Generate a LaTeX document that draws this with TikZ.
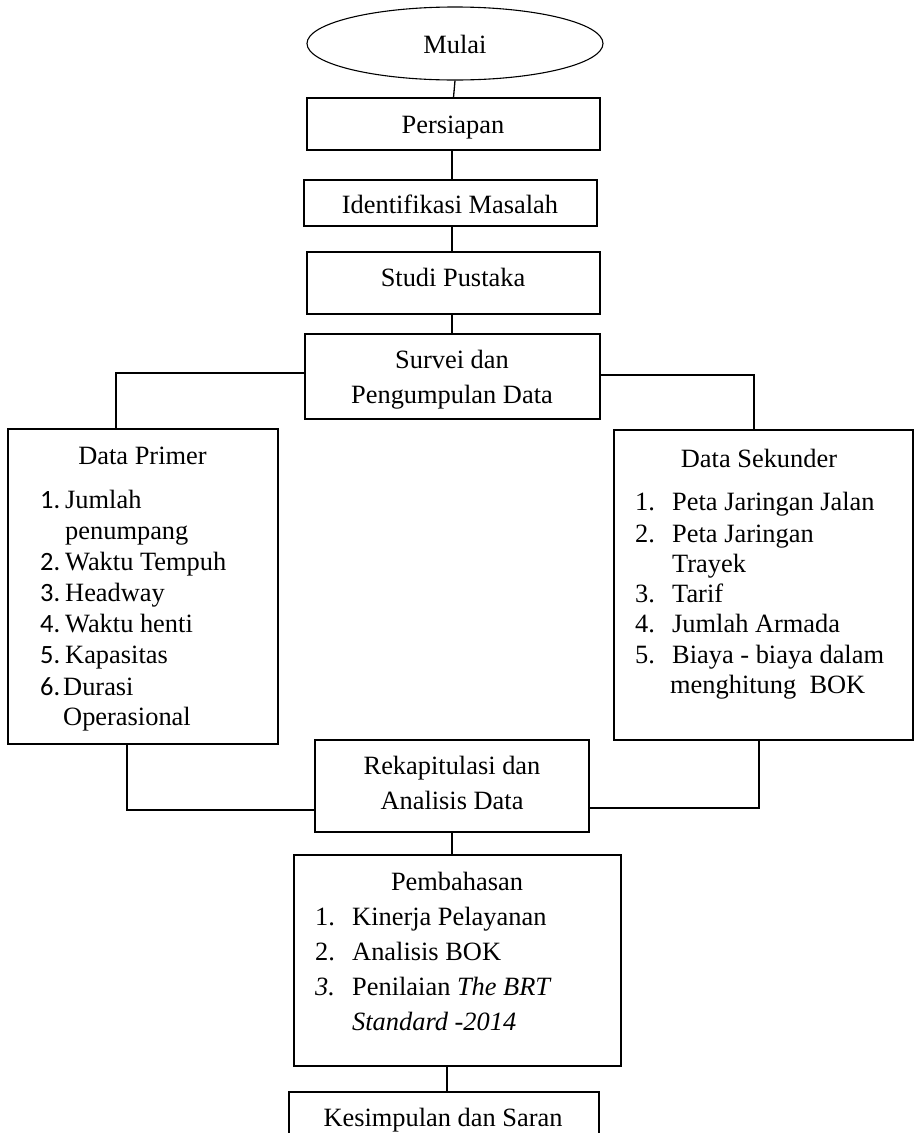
\documentclass[tikz,border=0pt]{standalone}
\usepackage{fontspec}
\setmainfont{Liberation Serif}
\newfontfamily\calfont{Carlito}
\usetikzlibrary{shapes.geometric}
\begin{document}
\begin{tikzpicture}[x=1pt,y=-1pt,
  every node/.style={font=\fontsize{26.4pt}{31pt}\selectfont},
  box/.style={draw=black, line width=1.1pt, rectangle, inner sep=0pt},
  txt/.style={inner sep=0pt, anchor=base},
  lst/.style={inner sep=0pt, anchor=base west},
  conn/.style={draw=black, line width=1.3pt}]
\clip (0,0) rectangle (916,1133);
\fill[white] (0,0) rectangle (916,1133);

% shapes
\node (mulai) [draw=black, line width=1.1pt, ellipse, inner sep=0pt, minimum width=296pt, minimum height=73pt] at (455,43.5) {};
\node (persiapan) [box, minimum width=293pt, minimum height=52pt] at (453.5,124) {};
\node (identifikasi) [box, minimum width=293pt, minimum height=46pt] at (450.5,203) {};
\node (studi) [box, minimum width=293pt, minimum height=62pt] at (453.5,283) {};
\node (survei) [box, minimum width=295pt, minimum height=85pt] at (452.5,376.5) {};
\node (primer) [box, minimum width=270pt, minimum height=315pt] at (143,586.5) {};
\node (sekunder) [box, minimum width=299pt, minimum height=310pt] at (763.5,585) {};
\node (rekap) [box, minimum width=274pt, minimum height=92pt] at (452,786) {};
\node (bahas) [box, minimum width=327pt, minimum height=211pt] at (457.5,960.5) {};
\node (simpul) [box, minimum width=310pt, minimum height=80pt] at (444,1132) {};

% texts
\node[txt] at (455,53) {Mulai};
\node[txt] at (453,133) {Persiapan};
\node[txt] at (450,213) {Identifikasi Masalah};
\node[txt] at (453,286) {Studi Pustaka};
\node[txt] at (452,368) {Survei dan};
\node[txt] at (452,403) {Pengumpulan Data};

\node[txt] at (142.5,464) {Data Primer};
\node[lst] at (40,508) {\calfont 1.};
\node[lst] at (65,508) {Jumlah};
\node[lst] at (65,539) {penumpang};
\node[lst] at (40,570) {\calfont 2.};
\node[lst] at (65,570) {Waktu Tempuh};
\node[lst] at (40,601) {\calfont 3.};
\node[lst] at (65,601) {Headway};
\node[lst] at (40,632) {\calfont 4.};
\node[lst] at (65,632) {Waktu henti};
\node[lst] at (40,663) {\calfont 5.};
\node[lst] at (65,663) {Kapasitas};
\node[lst] at (40,695) {\calfont 6.};
\node[lst] at (63,695) {Durasi};
\node[lst] at (63,725) {Operasional};

\node[txt] at (759,467) {Data Sekunder};
\node[lst] at (635,510) {1.};
\node[lst] at (672,510) {Peta Jaringan Jalan};
\node[lst] at (635,542) {2.};
\node[lst] at (672,542) {Peta Jaringan};
\node[lst] at (672,572) {Trayek};
\node[lst] at (635,602) {3.};
\node[lst] at (672,602) {Tarif};
\node[lst] at (635,632) {4.};
\node[lst] at (672,632) {Jumlah Armada};
\node[lst] at (635,663) {5.};
\node[lst] at (672,663) {Biaya - biaya dalam};
\node[lst] at (670,693) {menghitung\ \ BOK};

\node[txt] at (452,774) {Rekapitulasi dan};
\node[txt] at (452,809) {Analisis Data};

\node[txt] at (457,890) {Pembahasan};
\node[lst] at (315,925) {1.};
\node[lst] at (352,925) {Kinerja Pelayanan};
\node[lst] at (315,960) {2.};
\node[lst] at (352,960) {Analisis BOK};
\node[lst] at (315,995) {\itshape 3.};
\node[lst] at (352,995) {Penilaian \textit{The BRT}};
\node[lst] at (352,1030) {\itshape Standard -2014};

\node[txt] at (443,1126) {Kesimpulan dan Saran};

% connectors
\draw[conn] (mulai.south) -- (persiapan.north);
\draw[conn] ([xshift=-1.5pt]persiapan.south) -- ([xshift=1.5pt]identifikasi.north);
\draw[conn] ([xshift=1.5pt]identifikasi.south) -- ([xshift=-1.5pt]studi.north);
\draw[conn] ([xshift=-1.5pt]studi.south) -- ([xshift=-0.5pt]survei.north);
\draw[conn] ([yshift=3.5pt]survei.west) -| ([xshift=-27pt]primer.north);
\draw[conn] ([yshift=1.5pt]survei.east) -| ([xshift=-9.5pt]sekunder.north);
\draw[conn] ([xshift=-16pt]primer.south) |- ([yshift=-24pt]rekap.west);
\draw[conn] ([xshift=-4.5pt]sekunder.south) |- ([yshift=-22pt]rekap.east);
\draw[conn] (rekap.south) -- (rekap.south |- bahas.north);
\draw[conn] ([xshift=-10.5pt]bahas.south) -- ([xshift=-10.5pt]bahas.south |- simpul.north);
\end{tikzpicture}
\end{document}
